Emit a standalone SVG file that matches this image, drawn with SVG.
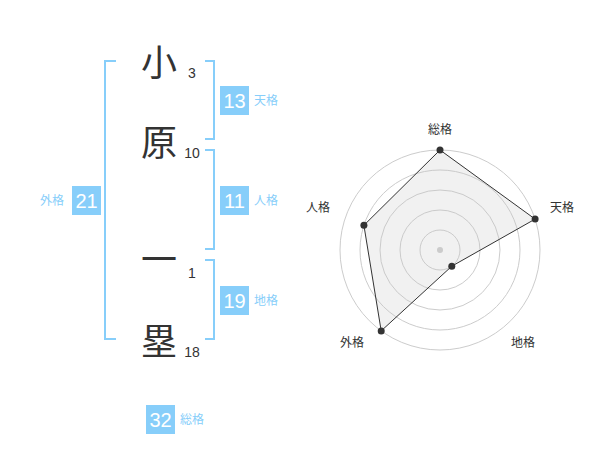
<svg xmlns="http://www.w3.org/2000/svg" width="600" height="470" viewBox="0 0 600 470">
<style>
.ch{font-family:"Noto Sans CJK JP","Noto Sans CJK SC",sans-serif;font-size:36px;fill:#333;text-anchor:middle}
.st{font-family:"Liberation Sans",Arial,sans-serif;font-size:14px;fill:#333;text-anchor:middle}
.br{fill:none;stroke:#87cefa;stroke-width:2}
.bx{fill:#87cefa}
.bn{font-family:"Liberation Sans",Arial,sans-serif;font-size:20px;fill:#fff;text-anchor:middle}
.bl{font-family:"Noto Sans CJK JP","Noto Sans CJK SC",sans-serif;font-size:12px;fill:#87cefa}
.ring{fill:none;stroke:#ccc;stroke-width:1}
.rl{font-family:"Noto Sans CJK JP","Noto Sans CJK SC",sans-serif;font-size:12px;fill:#333;text-anchor:middle}
.pt{fill:#333}
</style>
<g id="chars">
<g id="c1"><text class="ch" x="159" y="76">小</text><text class="st" x="192" y="78">3</text></g>
<g id="c2"><text class="ch" x="159" y="156">原</text><text class="st" x="192" y="158">10</text></g>
<g id="c3"><text class="ch" x="159" y="273">一</text><text class="st" x="192" y="278">1</text></g>
<g id="c4"><text class="ch" x="159" y="355">塁</text><text class="st" x="192" y="357">18</text></g>
</g>
<g id="connectors">
<path class="br" d="M116,61 H105 V339 H116"/>
<path class="br" d="M205,61 H214 V139 H205"/>
<path class="br" d="M205,150 H214 V249 H205"/>
<path class="br" d="M205,260 H214 V339 H205"/>
</g>
<g id="tenkaku"><rect class="bx" x="220" y="86" width="29" height="29"/><text class="bn" x="234.5" y="108">13</text><text class="bl" x="254" y="105">天格</text></g>
<g id="jinkaku"><rect class="bx" x="220" y="186" width="29" height="29"/><text class="bn" x="234.5" y="208">11</text><text class="bl" x="254" y="205">人格</text></g>
<g id="chikaku"><rect class="bx" x="220" y="286" width="29" height="29"/><text class="bn" x="234.5" y="308">19</text><text class="bl" x="254" y="305">地格</text></g>
<g id="gaikaku"><rect class="bx" x="72" y="186" width="29" height="29"/><text class="bn" x="86.5" y="208">21</text><text class="bl" x="40" y="205">外格</text></g>
<g id="soukaku"><rect class="bx" x="146" y="405" width="29" height="29"/><text class="bn" x="160.5" y="427">32</text><text class="bl" x="180" y="424">総格</text></g>
<g id="radar">
<circle class="ring" cx="440" cy="250" r="20"/>
<circle class="ring" cx="440" cy="250" r="40"/>
<circle class="ring" cx="440" cy="250" r="60"/>
<circle class="ring" cx="440" cy="250" r="80"/>
<circle class="ring" cx="440" cy="250" r="100"/>
<circle cx="440" cy="250" r="3" fill="#ccc"/>
<polygon points="440,150 535.1,219.1 451.8,266.2 381.2,330.9 363.9,225.3" fill="rgba(200,200,200,0.25)" stroke="#333" stroke-width="1"/>
<circle class="pt" cx="440" cy="150" r="3.5"/>
<circle class="pt" cx="535.1" cy="219.1" r="3.5"/>
<circle class="pt" cx="451.8" cy="266.2" r="3.5"/>
<circle class="pt" cx="381.2" cy="330.9" r="3.5"/>
<circle class="pt" cx="363.9" cy="225.3" r="3.5"/>
<text class="rl" x="440" y="134">総格</text>
<text class="rl" x="562" y="212">天格</text>
<text class="rl" x="523" y="347">地格</text>
<text class="rl" x="352" y="347">外格</text>
<text class="rl" x="318" y="212">人格</text>
</g>
</svg>
